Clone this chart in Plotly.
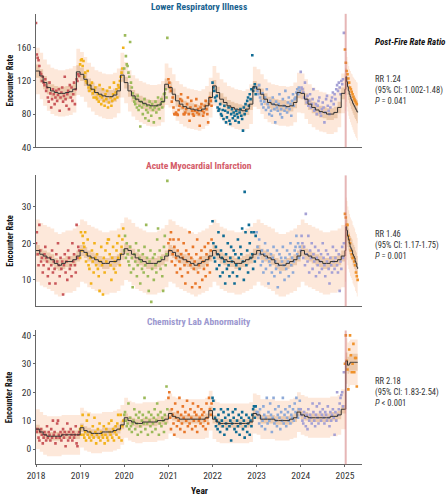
import pandas as pd
import plotly.graph_objects as go

# weekly encounter counts, one list per calendar year
years = [2018, 2019, 2020, 2021, 2022, 2023, 2024, 2025]
year_colors = ["#c9575a", "#f2b21b", "#9cba5a", "#e8772a", "#106c94", "#8eaad8", "#a5a1d5", "#f0922b"]

lri_points = {
    2018: [190, 152, 148, 145, 138, 130, 128, 120, 125, 118, 115, 122, 108, 112, 100, 95, 118, 105, 88, 98, 110, 104, 92, 100, 108, 96,
           103, 110, 84, 100, 106, 112, 95, 102, 125, 98, 90, 104, 108, 86, 115, 100, 112, 96, 104, 118, 92, 110, 122, 120, 128, 126],
    2019: [140, 145, 146, 138, 144, 125, 130, 120, 118, 132, 112, 108, 115, 110, 118, 105, 100, 108, 112, 100, 98, 104, 95, 115, 102, 92,
           100, 110, 96, 90, 104, 98, 108, 88, 94, 112, 100, 90, 96, 104, 118, 98, 106, 110, 100, 115, 112, 120, 125, 130, 135, 160],
    2020: [135, 175, 150, 140, 138, 130, 125, 167, 118, 112, 105, 100, 95, 92, 98, 88, 102, 85, 90, 65, 95, 88, 80, 92, 98, 75,
           85, 90, 82, 72, 95, 88, 78, 92, 85, 70, 88, 95, 82, 90, 100, 86, 75, 92, 98, 88, 95, 104, 105, 110, 100, 172],
    2021: [122, 118, 112, 108, 95, 100, 88, 80, 80, 82, 80, 79, 85, 90, 98, 104, 96, 88, 80, 80, 82, 86, 92, 100, 80, 72,
           88, 96, 84, 80, 78, 84, 90, 98, 82, 86, 80, 66, 88, 92, 84, 78, 82, 90, 96, 86, 80, 70, 92, 100, 96, 90],
    2022: [118, 112, 108, 100, 96, 102, 88, 84, 86, 92, 80, 78, 85, 74, 90, 84, 70, 76, 82, 88, 72, 68, 80, 86, 75, 82,
           78, 72, 84, 80, 76, 70, 82, 86, 78, 74, 60, 88, 80, 92, 84, 96, 100, 90, 104, 98, 110, 151, 108, 112, 116, 104],
    2023: [112, 108, 104, 115, 100, 96, 92, 105, 88, 95, 100, 85, 110, 92, 88, 80, 96, 84, 78, 100, 92, 86, 70, 95, 88, 84,
           92, 104, 80, 86, 76, 98, 90, 84, 108, 88, 82, 94, 100, 86, 92, 78, 96, 104, 90, 98, 100, 106, 110, 104, 112, 108],
    2024: [131, 112, 110, 106, 100, 118, 98, 94, 102, 90, 96, 104, 88, 92, 98, 110, 84, 86, 92, 80, 90, 96, 100, 82, 78, 86,
           94, 88, 70, 82, 98, 102, 90, 84, 80, 88, 96, 100, 106, 92, 104, 98, 110, 115, 108, 118, 112, 104, 120, 116, 122, 178],
    2025: [158, 142, 132, 128, 123, 118, 112, 110, 107, 104, 101, 98, 96, 94, 92],
}
ami_points = {
    2018: [20, 23, 17, 14, 25, 18, 15, 16, 12, 14, 17, 19, 16, 15, 11, 13, 9, 16, 14, 18, 12, 15, 13, 9, 17, 15,
           20, 14, 11, 16, 13, 15, 6, 14, 17, 12, 15, 10, 18, 16, 13, 14, 11, 20, 15, 17, 14, 12, 25, 16, 19, 18],
    2019: [16, 23, 18, 22, 20, 19, 23, 15, 17, 21, 14, 13, 16, 9, 18, 15, 12, 20, 16, 14, 17, 13, 11, 7, 15, 19,
           14, 6, 16, 12, 18, 15, 20, 21, 21, 17, 14, 10, 16, 19, 13, 15, 12, 18, 20, 16, 22, 14, 17, 19, 21, 24],
    2020: [18, 22, 16, 20, 17, 15, 14, 19, 12, 16, 8, 13, 17, 15, 20, 11, 14, 18, 16, 9, 15, 13, 17, 12, 19, 14,
           25, 16, 11, 7, 15, 18, 4, 13, 16, 10, 17, 14, 12, 21, 24, 15, 18, 13, 16, 11, 7, 19, 22, 14, 17, 37],
    2021: [20, 18, 21, 23, 15, 17, 21, 19, 14, 16, 12, 18, 21, 15, 13, 17, 11, 16, 20, 14, 9, 18, 15, 12, 17, 23,
           14, 16, 8, 19, 13, 15, 9, 17, 21, 12, 14, 8, 16, 18, 10, 15, 13, 19, 11, 17, 14, 20, 16, 12, 18, 21],
    2022: [26, 20, 16, 15, 19, 13, 17, 23, 14, 11, 18, 16, 12, 22, 15, 9, 17, 13, 20, 14, 11, 16, 19, 15, 12, 18,
           9, 17, 14, 11, 21, 16, 13, 19, 17, 24, 15, 10, 34, 23, 14, 18, 12, 25, 20, 16, 23, 17, 13, 23, 15, 22],
    2023: [23, 19, 16, 21, 17, 14, 18, 15, 12, 17, 20, 13, 16, 18, 9, 15, 14, 17, 12, 16, 19, 11, 15, 13, 18, 8,
           14, 17, 12, 16, 15, 19, 14, 10, 16, 13, 18, 15, 11, 17, 20, 14, 16, 12, 15, 18, 19, 22, 17, 20, 16, 19],
    2024: [18, 22, 20, 16, 19, 14, 28, 17, 15, 22, 12, 18, 16, 20, 13, 17, 15, 19, 11, 16, 14, 18, 12, 15, 17, 13,
           20, 16, 14, 11, 18, 15, 17, 13, 9, 16, 14, 12, 19, 15, 13, 16, 18, 14, 12, 17, 7, 15, 13, 19, 16, 20],
    2025: [28, 27, 25, 25, 22, 21, 20, 18, 17, 16, 16, 15, 14, 12, 11, 10],
}
chem_points = {
    2018: [7, 6, 7, 4, 3, 6, 7, 5, 2, 4, 6, 5, 3, 8, 4, 6, 5, 3, 7, 4, 10, 5, 6, 2, 4, 9,
           10, 5, 4, 6, 3, 5, 7, 4, 6, 1, 5, 9, 3, 6, 4, 7, 5, 3, 6, 4, 5, 8, 2, 1, 5, 6],
    2019: [7, 5, 8, 12, 5, 4, 6, 3, 10, 5, 12, 4, 6, 3, 5, 8, 4, 11, 6, 2, 5, 7, 4, 9, 3, 6,
           5, 4, 8, 2, 5, 7, 4, 3, 9, 6, 5, 10, 4, 7, 3, 6, 8, 5, 9, 12, 4, 7, 12, 3, 8, 10],
    2020: [12, 13, 10, 8, 9, 16, 7, 11, 8, 6, 9, 10, 14, 7, 12, 9, 5, 11, 13, 8, 6, 10, 12, 9, 18, 7,
           11, 9, 5, 13, 10, 8, 12, 6, 9, 11, 14, 7, 10, 16, 12, 5, 9, 13, 8, 11, 10, 6, 12, 9, 22, 14],
    2021: [18, 20, 11, 7, 14, 12, 9, 5, 16, 11, 8, 13, 10, 18, 7, 12, 9, 15, 11, 6, 13, 10, 17, 8, 12, 9,
           14, 11, 7, 16, 10, 13, 8, 12, 6, 15, 10, 11, 9, 14, 12, 8, 13, 10, 7, 16, 11, 9, 18, 14, 12, 16],
    2022: [18, 17, 14, 11, 8, 10, 7, 12, 9, 6, 14, 10, 8, 13, 5, 11, 9, 7, 14, 12, 8, 10, 3, 9, 13, 11,
           7, 14, 6, 10, 8, 12, 5, 9, 11, 13, 7, 10, 4, 8, 12, 6, 9, 11, 5, 10, 8, 12, 14, 15, 11, 15],
    2023: [13, 13, 12, 9, 14, 11, 8, 10, 15, 12, 7, 11, 18, 9, 13, 10, 16, 12, 6, 11, 18, 9, 14, 10, 8, 12,
           15, 11, 7, 13, 10, 18, 9, 12, 14, 8, 11, 13, 10, 15, 9, 12, 11, 14, 10, 16, 13, 18, 12, 11, 14, 17],
    2024: [14, 12, 10, 9, 13, 11, 8, 12, 7, 14, 10, 12, 11, 9, 16, 13, 10, 8, 12, 15, 11, 9, 16, 13, 10, 12,
           14, 11, 9, 13, 12, 10, 15, 11, 8, 13, 10, 12, 14, 11, 5, 13, 10, 20, 12, 14, 16, 18, 19, 20, 15, 27],
    2025: [30, 40, 31, 28, 21, 35, 40, 33, 27, 30, 37, 27, 32, 32, 22],
}

# fitted rate, monthly 2018-2024, then weekly from Jan 2025
lri_fit = [132, 126, 118, 112, 108, 106, 105, 105, 106, 107, 110, 131,
           128, 122, 115, 110, 106, 104, 102, 101, 101, 103, 108, 127,
           118, 108, 102, 98, 95, 93, 91, 90, 90, 91, 95, 116,
           112, 104, 96, 92, 89, 87, 86, 85, 84, 86, 90, 100,
           114, 106, 98, 94, 90, 88, 86, 85, 84, 86, 92, 113,
           110, 104, 98, 94, 92, 91, 90, 90, 89, 90, 94, 106,
           105, 98, 92, 88, 85, 83, 82, 80, 80, 82, 88, 105]
lri_fit_post = [110, 125, 119, 113, 108, 104, 101, 98, 96, 93, 91, 89, 87, 85, 83, 82]
ami_fit = [18, 17, 16.5, 16, 15.5, 14.5, 14, 14.5, 15, 15, 15.5, 16.5,
           18, 17.5, 16.5, 16, 15.5, 15, 14.5, 14.5, 15, 15, 15.5, 17,
           18.5, 18, 17, 16, 15.5, 15, 14.5, 14.5, 14.5, 15, 15.5, 16.5,
           18, 17.5, 16.5, 16, 15.5, 15, 14.5, 14, 14.5, 15, 15.5, 16.5,
           18, 17, 16, 15.5, 15, 15, 14.5, 14.5, 15, 15.5, 16, 17,
           18, 17, 16.5, 16, 15.5, 14.5, 14, 14, 14.5, 15, 15.5, 16.5,
           18, 17, 16.5, 16, 15.5, 15, 14.5, 14.5, 15, 15, 15.5, 16.5]
ami_fit_post = [18, 24.5, 23.5, 22, 21, 20, 19, 18.5, 18, 17, 16.5, 16, 15, 14.5, 13.5, 13]
chem_fit = [7, 6, 5, 4.5, 4.5, 4.5, 4.5, 5, 5, 5, 5, 5,
            7.5, 6.5, 6, 5.5, 5.5, 5.5, 6, 6, 6, 6.5, 7, 8.5,
            11, 10, 9.5, 9, 9, 9.5, 9.5, 9.5, 9.5, 10, 10, 10.5,
            12.5, 11.5, 11, 10.5, 10.5, 10.5, 10.5, 10.5, 10.5, 10.5, 11, 13.5,
            10.5, 9.5, 9, 9, 9, 9, 9, 9, 9, 9, 9.5, 12.5,
            12, 10.5, 10.5, 10.5, 10.5, 10, 10, 10, 10, 10.5, 11, 13,
            12, 11.5, 11, 11, 11, 11, 11, 11, 11.5, 11.5, 12, 14]
chem_fit_post = [14, 31, 31, 29.5, 29.5, 30, 30.5, 30.5, 30.5, 30.5, 30.5, 30.5, 30.5, 30.5, 30.5, 30.5]

# interval half-widths: one per year 2018-2024, then weekly after the fire
lri_outer = [28, 27, 25, 24, 24, 24, 24]
lri_inner = [8, 8, 7, 7, 7, 7, 7]
lri_outer_post = [26, 30, 30, 30, 30, 30, 31, 31, 32, 32, 33, 33, 34, 34, 35, 35]
lri_inner_post = [7, 10, 10, 10, 11, 11, 11, 12, 12, 12, 12, 13, 13, 13, 14, 14]
ami_outer = [8.5, 8.5, 8.5, 8.5, 8.5, 8.5, 8.5]
ami_inner = [1.5, 1.5, 1.5, 1.5, 1.5, 1.5, 1.5]
ami_outer_post = [8.5, 8, 8, 8, 8, 8, 8, 8, 8, 8, 8, 8, 8, 8, 8, 8]
ami_inner_post = [1.5, 3, 3, 3, 3, 3, 3, 3, 3, 3, 3, 3, 3, 3, 3, 3]
chem_outer = [7, 7, 7, 7, 7, 7, 7]
chem_inner = [1.5, 1.5, 1.5, 1.5, 1.5, 1.5, 1.5]
chem_outer_post = [7, 8, 8, 8, 8, 8, 8, 8, 8, 8, 8, 8, 8, 8, 8, 8]
chem_inner_post = [1.5, 3, 3, 3, 3, 3, 3, 3, 3, 3, 3, 3, 3, 3, 3, 3]

panel_titles = ["Lower Respiratory Illness", "Acute Myocardial Infarction", "Chemistry Lab Abnormality"]
title_colors = ["#17628f", "#d45c68", "#9c98cf"]
rr_text = ["RR 1.24<br>(95% CI: 1.002-1.48)<br><i>P</i> = 0.041",
           "RR 1.46<br>(95% CI: 1.17-1.75)<br><i>P</i> = 0.001",
           "RR 2.18<br>(95% CI: 1.83-2.54)<br><i>P</i> < 0.001"]
fire_date = "2025-01-07"

FONT = "Liberation Sans Narrow, Roboto Condensed, DejaVu Sans Condensed, Roboto, sans-serif"
months = pd.date_range("2018-01-01", periods=84, freq="MS")
post_weeks = pd.date_range("2025-01-01", periods=16, freq="7D")
fit_x = list(months) + list(post_weeks)

panels = [
    (lri_points, lri_fit, lri_fit_post, lri_outer, lri_inner, lri_outer_post, lri_inner_post),
    (ami_points, ami_fit, ami_fit_post, ami_outer, ami_inner, ami_outer_post, ami_inner_post),
    (chem_points, chem_fit, chem_fit_post, chem_outer, chem_inner, chem_outer_post, chem_inner_post),
]
domains = [[0.704, 0.974], [0.382, 0.647], [0.062, 0.333]]
yranges = [[40, 201], [2.8, 38.5], [-5.4, 41.7]]
ytickvals = [[40, 80, 120, 160], [10, 20, 30], [0, 10, 20, 30, 40]]
title_px = [6, 166, 324]
rr_px = [90, 247, 396]

fig = go.Figure()

for p, (pts, fit, fit_post, outer, inner, outer_post, inner_post) in enumerate(panels):
    xa = "x" if p == 0 else f"x{p + 1}"
    ya = "y" if p == 0 else f"y{p + 1}"
    fit_all = fit + fit_post
    outer_all = [outer[m // 12] for m in range(84)] + outer_post
    inner_all = [inner[m // 12] for m in range(84)] + inner_post

    for hw, col in [(outer_all, "#fde8da"), (inner_all, "#ecc9ac")]:
        fig.add_trace(go.Scatter(x=fit_x, y=[f - h for f, h in zip(fit_all, hw)], mode="lines",
                                 line=dict(width=0, shape="hv"), hoverinfo="skip",
                                 showlegend=False, xaxis=xa, yaxis=ya))
        fig.add_trace(go.Scatter(x=fit_x, y=[f + h for f, h in zip(fit_all, hw)], mode="lines",
                                 line=dict(width=0, shape="hv"), fill="tonexty", fillcolor=col,
                                 hoverinfo="skip", showlegend=False, xaxis=xa, yaxis=ya))

    for yr, col in zip(years, year_colors):
        vals = pts[yr]
        fig.add_trace(go.Scatter(x=pd.date_range(f"{yr}-01-01", periods=len(vals), freq="7D"), y=vals,
                                 mode="markers", marker=dict(size=2.6, color=col, symbol="square"),
                                 showlegend=False, xaxis=xa, yaxis=ya))

    fig.add_trace(go.Scatter(x=fit_x, y=fit_all, mode="lines", line=dict(color="#333333", width=1, shape="hv"),
                             showlegend=False, xaxis=xa, yaxis=ya))

    fig.add_shape(type="line", x0=fire_date, x1=fire_date, y0=0, y1=1, xref=xa, yref=f"{ya} domain",
                  line=dict(color="rgba(205,110,110,0.5)", width=2))

    fig.update_layout({
        ("xaxis" if p == 0 else f"xaxis{p + 1}"): dict(
            domain=[0, 1], anchor=ya, type="date", range=["2018-01-01", "2025-05-22"],
            showline=True, linecolor="#666666", linewidth=1, showgrid=False, zeroline=False,
            ticks="outside" if p == 2 else "", ticklen=2, tickcolor="#666666",
            dtick="M12", tickformat="%Y", showticklabels=(p == 2),
            tickfont=dict(family=FONT, size=9.5, color="#333333")),
        ("yaxis" if p == 0 else f"yaxis{p + 1}"): dict(
            domain=domains[p], anchor=xa, range=yranges[p], tickvals=ytickvals[p],
            showline=True, linecolor="#666666", linewidth=1, showgrid=False, zeroline=False,
            ticks="outside", ticklen=2, tickcolor="#666666",
            tickfont=dict(family=FONT, size=9.5, color="#333333")),
    })

    fig.add_annotation(text=f"<b>{panel_titles[p]}</b>", x=0.5, y=1 - title_px[p] / 500, xref="paper", yref="paper",
                       yanchor="middle", showarrow=False, font=dict(family=FONT, size=9.5, color=title_colors[p]))
    fig.add_annotation(text="<b>Encounter Rate</b>", x=-0.08, y=sum(domains[p]) / 2, xref="paper", yref="paper",
                       xanchor="center", yanchor="middle", textangle=-90, showarrow=False,
                       font=dict(family=FONT, size=8.5, color="#111111"))
    fig.add_annotation(text=rr_text[p], x=1.034, y=1 - rr_px[p] / 500, xref="paper", yref="paper",
                       xanchor="left", yanchor="middle", align="left", showarrow=False,
                       font=dict(family=FONT, size=8.5, color="#333333"))

fig.add_annotation(text="<b><i>Post-Fire Rate Ratio</i></b>", x=1.034, y=1 - 41 / 500, xref="paper", yref="paper",
                   xanchor="left", yanchor="middle", showarrow=False, font=dict(family=FONT, size=9, color="#111111"))
fig.add_annotation(text="<b>Year</b>", x=0.5, y=1 - 495 / 500, xref="paper", yref="paper", yanchor="middle",
                   showarrow=False, font=dict(family=FONT, size=9.5, color="#111111"))

fig.update_layout(width=447, height=500, margin=dict(l=36, r=85, t=0, b=0),
                  paper_bgcolor="white", plot_bgcolor="white", showlegend=False,
                  font=dict(family=FONT))

# the page's default 8px body margin would push the 447x500 figure off the window
fig.write_html("out.html", config={"displayModeBar": False},
               post_script="document.body.style.margin = '0';")
